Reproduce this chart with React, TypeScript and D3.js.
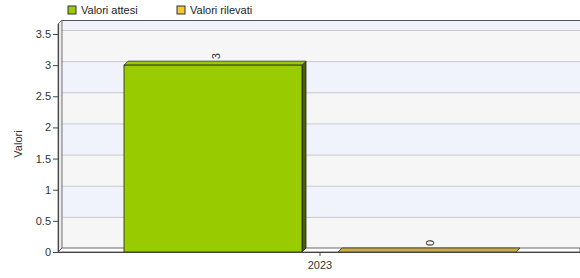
import React from 'react';
import * as d3 from 'd3';

// chart data
const categories = ['2023'];
const seriesNames = ['Valori attesi', 'Valori rilevati'];
const seriesValues = [[3], [0]];
const seriesColors = ['#99CC00', '#F2C634'];
const topColors = ['#99CC00', '#C9AE45'];
const sideColors = ['#4A6200', '#8A7420'];
const yTicks = [0, 0.5, 1, 1.5, 2, 2.5, 3, 3.5];

const W = 580;
const H = 278;
const DX = 4; // 3d depth
const DY = 4;
const left = 58;
const right = 582;
const top = 24;
const bottom = 252;

function App() {
  const y = d3.scaleLinear().domain([0, 3.5]).range([bottom, 34]);

  const x0 = d3.scaleBand().domain(categories).range([left, right]).paddingOuter(0).paddingInner(0);
  const cm = 66; // category margin
  const x1 = d3
    .scaleBand()
    .domain(seriesNames)
    .range([cm, x0.bandwidth() - cm])
    .paddingInner(36 / 214)
    .paddingOuter(0);

  // alternating bands on back wall
  const bandEdges = [...yTicks, 3.66];
  const font = 'Arial, "Liberation Sans", sans-serif';

  return (
    <svg width={W} height={H} style={{ position: 'absolute', left: 0, top: 0 }}>
      <rect width={W} height={H} fill="#fff" />

      {/* legend */}
      {seriesNames.map((s, i) => {
        const lx = i === 0 ? 68 : 177;
        return (
          <g key={s}>
            <rect x={lx} y={6} width={8} height={8} fill={seriesColors[i]} stroke="#333" strokeWidth={1} />
            <text x={lx + 13} y={14} fontFamily={font} fontSize={11} fill="#222">
              {s}
            </text>
          </g>
        );
      })}

      {/* back wall bands */}
      {bandEdges.slice(0, -1).map((v, i) => (
        <rect
          key={v}
          x={left + DX}
          y={Math.max(top - DY, y(bandEdges[i + 1]) - DY)}
          width={right - left}
          height={y(v) - Math.max(top, y(bandEdges[i + 1]))}
          fill={i % 2 === 0 ? '#F6F6F7' : '#F1F3FC'}
        />
      ))}
      {/* gridlines */}
      {yTicks.slice(1).map((v) => (
        <line
          key={v}
          x1={left + DX}
          x2={right + DX}
          y1={y(v) - DY + 0.5}
          y2={y(v) - DY + 0.5}
          stroke="#C8C8CC"
          strokeWidth={1}
        />
      ))}
      {/* top edge */}
      <line x1={left + DX} x2={W} y1={top - DY + 0.5} y2={top - DY + 0.5} stroke="#555" strokeWidth={1.2} />

      {/* left wall */}
      <polygon
        points={`${left},${top} ${left + DX},${top - DY} ${left + DX},${bottom - DY} ${left},${bottom}`}
        fill="#E8E8EC"
        stroke="#555"
        strokeWidth={0.8}
      />
      {/* floor */}
      <polygon
        points={`${left},${bottom} ${left + DX},${bottom - DY} ${W},${bottom - DY} ${W},${bottom}`}
        fill="#FFFFFF"
        stroke="#444"
        strokeWidth={0.8}
      />

      {/* bars */}
      {categories.map((c, ci) =>
        seriesNames.map((s, si) => {
          const v = seriesValues[si][ci];
          const bx = (x0(c) ?? 0) + (x1(s) ?? 0);
          const bw = x1.bandwidth();
          const by = y(v);
          const h = bottom - by;
          return (
            <g key={s}>
              {h > 0 && (
                <polygon
                  points={`${bx + bw},${by} ${bx + bw + DX},${by - DY} ${bx + bw + DX},${bottom - DY} ${bx + bw},${bottom}`}
                  fill={sideColors[si]}
                  stroke="#222"
                  strokeWidth={0.8}
                />
              )}
              <polygon
                points={`${bx},${by} ${bx + DX},${by - DY} ${bx + bw + DX},${by - DY} ${bx + bw},${by}`}
                fill={topColors[si]}
                stroke="#333"
                strokeWidth={0.8}
              />
              {h > 0 && (
                <rect x={bx} y={by} width={bw} height={h} fill={seriesColors[si]} stroke="#222" strokeWidth={0.8} />
              )}
              <text
                transform={`translate(${bx + bw / 2 + DX / 2 + 1},${by - DY - 2}) rotate(-90)`}
                fontFamily={font}
                fontSize={11}
                fill="#333"
                dominantBaseline="central"
              >
                {v}
              </text>
            </g>
          );
        })
      )}

      {/* y axis */}
      <line x1={left + 0.5} x2={left + 0.5} y1={top} y2={bottom} stroke="#444" strokeWidth={1} />
      {yTicks.map((v) => (
        <g key={v}>
          <line x1={left - 5} x2={left} y1={y(v) + 0.5} y2={y(v) + 0.5} stroke="#444" />
          <text x={left - 7} y={y(v) + 4} textAnchor="end" fontFamily={font} fontSize={11} fill="#333">
            {v}
          </text>
        </g>
      ))}
      <text
        transform={`translate(22,${(top + bottom) / 2 + 6}) rotate(-90)`}
        textAnchor="middle"
        fontFamily={font}
        fontSize={11}
        fill="#333"
      >
        Valori
      </text>

      {/* x axis */}
      <line x1={left} x2={W} y1={bottom + 0.5} y2={bottom + 0.5} stroke="#444" />
      {categories.map((c) => {
        const cx = (x0(c) ?? 0) + x0.bandwidth() / 2;
        return (
          <g key={c}>
            <line x1={cx} x2={cx} y1={bottom} y2={bottom + 4} stroke="#444" />
            <text x={cx} y={bottom + 17} textAnchor="middle" fontFamily={font} fontSize={11} fill="#333">
              {c}
            </text>
          </g>
        );
      })}
    </svg>
  );
}

export default App;
